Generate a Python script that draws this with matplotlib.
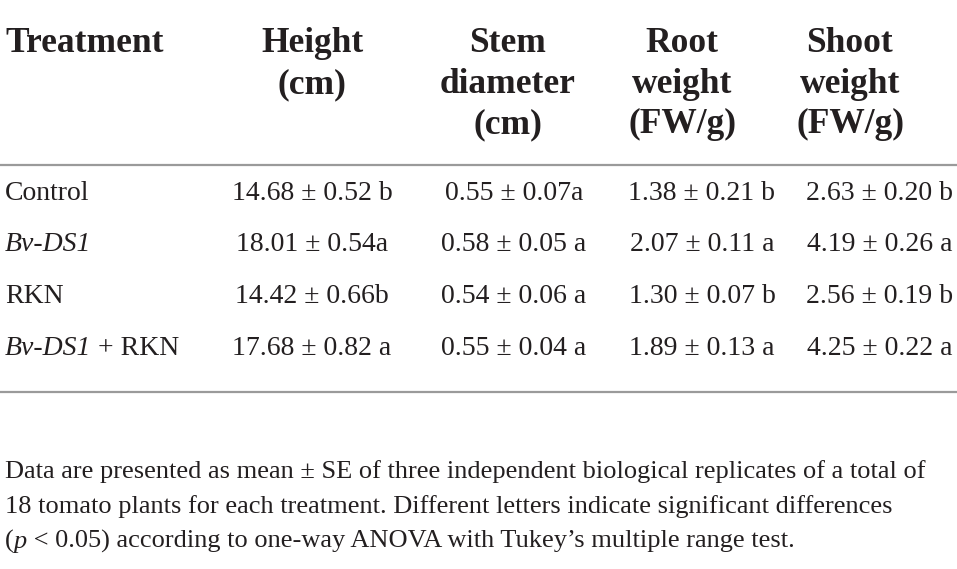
import matplotlib
matplotlib.use("Agg")
import matplotlib.pyplot as plt

# table contents
headers = [["Treatment"], ["Height", "(cm)"], ["Stem", "diameter", "(cm)"],
           ["Root", "weight", "(FW/g)"], ["Shoot", "weight", "(FW/g)"]]
treat_italic = ["", "Bv-DS1", "", "Bv-DS1"]
treat_plain = ["Control", "", "RKN", " + RKN"]
height = ["14.68 ± 0.52 b", "18.01 ± 0.54a", "14.42 ± 0.66b", "17.68 ± 0.82 a"]
stem = ["0.55 ± 0.07a", "0.58 ± 0.05 a", "0.54 ± 0.06 a", "0.55 ± 0.04 a"]
root = ["1.38 ± 0.21 b", "2.07 ± 0.11 a", "1.30 ± 0.07 b", "1.89 ± 0.13 a"]
shoot = ["2.63 ± 0.20 b", "4.19 ± 0.26 a", "2.56 ± 0.19 b", "4.25 ± 0.22 a"]
note = ["Data are presented as mean ± SE of three independent biological replicates of a total of",
        "18 tomato plants for each treatment. Different letters indicate significant differences",
        ["(", "p", " < 0.05) according to one-way ANOVA with Tukey’s multiple range test."]]

W, H = 957, 569
FONT = "Liberation Serif"
INK = "#231f20"

fig = plt.figure(figsize=(W / 100, H / 100), dpi=100)
ax = fig.add_axes([0, 0, 1, 1])
ax.set_xlim(0, W)
ax.set_ylim(H, 0)
ax.axis("off")
renderer = fig.canvas.get_renderer()


def put(x, y, s, size, ha="left", weight="normal", style="normal"):
    return ax.text(x, y, s, fontsize=size, ha=ha, va="baseline", family=FONT,
                   weight=weight, style=style, color=INK)


def chain(x, y, parts, size):
    # parts: list of (text, style); placed one after another on a baseline
    for s, st in parts:
        if not s:
            continue
        t = put(x, y, s, size, style=st)
        x = t.get_window_extent(renderer).x1
    return x


# header
head_x = [5, 312, 508, 682, 850]
head_base = [52, 93, 133]
for i, lines in enumerate(headers):
    for j, s in enumerate(lines):
        put(head_x[i], head_base[j], s, 25.5, ha="left" if i == 0 else "center", weight="bold")

ax.hlines([165, 392], 0, W, color="#9a9a9a", lw=1.6)

# body
row_base = [200, 251, 303, 355]
col_x = [312, 514, 702, 880]
for r in range(4):
    chain(5, row_base[r], [(treat_italic[r], "italic"), (treat_plain[r], "normal")], 20)
    for c, col in enumerate([height, stem, root, shoot]):
        put(col_x[c], row_base[r], col[r], 20, ha="center")

# footnote
note_base = [478, 513, 548]
put(5, note_base[0], note[0], 19)
put(5, note_base[1], note[1], 19)
chain(5, note_base[2], [(note[2][0], "normal"), (note[2][1], "italic"), (note[2][2], "normal")], 19)

fig.savefig("out.png", dpi=100, facecolor="white")
